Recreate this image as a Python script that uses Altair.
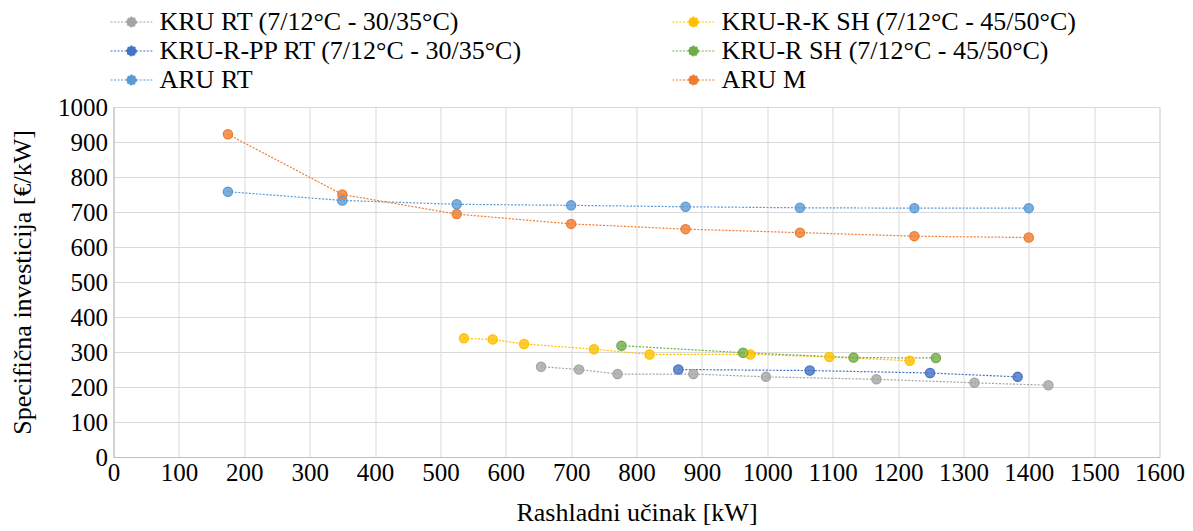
import altair as alt
import pandas as pd

# legend order (Vega fills the 2-column legend column by column)
series_names = [
    "KRU RT (7/12°C - 30/35°C)",
    "KRU-R-PP RT (7/12°C - 30/35°C)",
    "ARU RT",
    "KRU-R-K SH (7/12°C - 45/50°C)",
    "KRU-R SH (7/12°C - 45/50°C)",
    "ARU M",
]
series_colors = ["#A5A5A5", "#4472C4", "#5B9BD5", "#FFC000", "#70AD47", "#ED7D31"]

kru_rt_x = [654, 712, 771, 887, 998, 1167, 1317, 1430]
kru_rt_y = [258, 250, 237, 237, 229, 222, 212, 205]

kru_rpp_rt_x = [864, 1065, 1249, 1383]
kru_rpp_rt_y = [250, 247, 240, 229]

aru_rt_x = [175, 350, 525, 700, 875, 1050, 1225, 1400]
aru_rt_y = [758, 733, 722, 719, 715, 712, 711, 711]

kru_rk_sh_x = [536, 580, 628, 735, 820, 974, 1095, 1218]
kru_rk_sh_y = [339, 336, 323, 308, 293, 293, 286, 275]

kru_r_sh_x = [777, 963, 1132, 1258]
kru_r_sh_y = [318, 298, 284, 283]

aru_m_x = [175, 350, 525, 700, 875, 1050, 1225, 1400]
aru_m_y = [922, 750, 694, 666, 651, 641, 631, 627]

x_ticks = list(range(0, 1601, 100))
y_ticks = list(range(0, 1001, 100))

all_x = [kru_rt_x, kru_rpp_rt_x, aru_rt_x, kru_rk_sh_x, kru_r_sh_x, aru_m_x]
all_y = [kru_rt_y, kru_rpp_rt_y, aru_rt_y, kru_rk_sh_y, kru_r_sh_y, aru_m_y]

rows = []
for name, xs, ys in zip(series_names, all_x, all_y):
    for i, (xv, yv) in enumerate(zip(xs, ys)):
        rows.append({"series": name, "x": xv, "y": yv, "order": i})
df = pd.DataFrame(rows)

FONT = "Liberation Serif, Times New Roman, DejaVu Serif, serif"

color = alt.Color(
    "series:N",
    scale=alt.Scale(domain=series_names, range=series_colors),
    legend=alt.Legend(
        title=None,
        orient="none",
        legendX=5,
        legendY=-98,
        columns=2,
        columnPadding=146,
        rowPadding=3,
        labelFont=FONT,
        labelFontSize=26,
        labelColor="#000000",
        labelOffset=15,
        symbolType="M-1.75,0L-0.4,0M0.4,0L1.75,0M0.4,0A0.4,0.4,0,1,1,-0.4,0A0.4,0.4,0,1,1,0.4,0Z",
        symbolSize=576,
        symbolStrokeWidth=1.2,
        symbolDash=[2, 1.5],
        symbolOpacity=1,
        labelLimit=600,
    ),
)

x_enc = alt.X(
    "x:Q",
    scale=alt.Scale(domain=[0, 1600], nice=False, zero=False),
    axis=alt.Axis(
        title="Rashladni učinak [kW]",
        values=x_ticks,
        format="d",
        grid=True,
        gridColor="#D9D9D9",
        gridWidth=1,
        domainColor="#BFBFBF",
        ticks=False,
        tickSize=0,
        labelPadding=3,
        labelFont=FONT,
        labelFontSize=25,
        labelColor="#000000",
        titleFont=FONT,
        titleFontSize=26,
        titleFontWeight="normal",
        titleColor="#000000",
        titlePadding=14,
        labelFlush=False,
    ),
)
y_enc = alt.Y(
    "y:Q",
    scale=alt.Scale(domain=[0, 1000], nice=False, zero=True),
    axis=alt.Axis(
        title="Specifična investicija [€/kW]",
        values=y_ticks,
        format="d",
        grid=True,
        gridColor="#D9D9D9",
        gridWidth=1,
        domainColor="#BFBFBF",
        ticks=False,
        tickSize=0,
        labelPadding=6,
        labelFont=FONT,
        labelFontSize=25,
        labelColor="#000000",
        titleFont=FONT,
        titleFontSize=26,
        titleFontWeight="normal",
        titleColor="#000000",
        titlePadding=22,
        labelFlush=False,
    ),
)

base = alt.Chart(df)

lines = base.mark_line(strokeWidth=1.2, strokeDash=[2, 1.5]).encode(
    x=x_enc, y=y_enc, color=color, order="order:Q"
)
points_fill = base.mark_point(filled=True, size=85, opacity=0.8).encode(
    x=x_enc, y=y_enc, color=color
)
points_edge = base.mark_point(filled=False, size=85, strokeWidth=1.3, opacity=1).encode(
    x=x_enc, y=y_enc, color=color
)

chart = (
    alt.layer(lines, points_fill, points_edge)
    .properties(
        width=1046,
        height=350,
        autosize=alt.AutoSizeParams(type="none"),
        padding={"left": 105.5, "top": 99, "right": 25.5, "bottom": 72},
    )
    .configure_view(stroke=None)
    .configure(font=FONT)
)

chart.save("out.html", embed_options={"renderer": "svg", "actions": False})
